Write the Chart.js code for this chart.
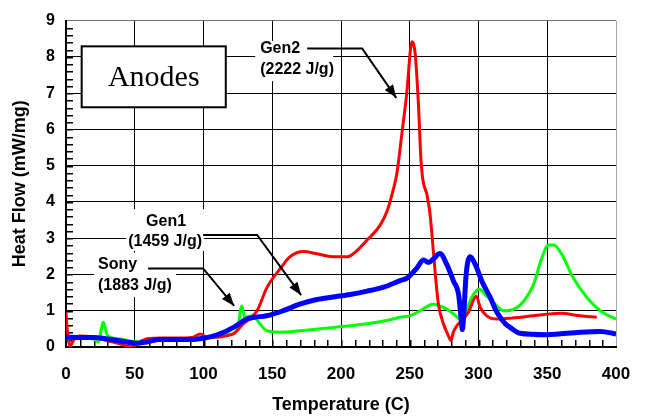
<!DOCTYPE html>
<html>
<head>
<meta charset="utf-8">
<script src="https://cdn.jsdelivr.net/npm/chart.js@4/dist/chart.umd.min.js"></script>
<style>
html,body{margin:0;padding:0;background:#fff;}
#c{display:block;}
</style>
</head>
<body>
<canvas id="c" width="649" height="416"></canvas>
<script>
// ---- Data ----
const xTicks = [0, 50, 100, 150, 200, 250, 300, 350, 400];
const yTicks = [0, 1, 2, 3, 4, 5, 6, 7, 8, 9];

// Gen2 (red)
const gen2T = [0, 0.6, 3, 5.3, 10, 20, 29.6, 39, 47.8, 54, 58.7, 70, 85, 92.6, 97.5, 102.4, 110, 118, 122, 129, 139, 146, 156, 163, 173, 182.5, 194, 205, 209, 219, 228.5, 234, 238, 240.7, 244.3, 248, 250.4, 251.5, 254, 256.4, 258, 259.5, 262.5, 264.5, 266, 268.6, 270.8, 274.5, 278, 280, 281.7, 284.3, 288, 292.6, 298.4, 301.3, 306, 313.5, 325, 340, 359.5, 374, 386];
const gen2V = [0.95, 0.6, 0.02, 0.18, 0.3, 0.27, 0.18, 0.09, 0.0, 0.14, 0.23, 0.25, 0.25, 0.27, 0.36, 0.27, 0.27, 0.32, 0.37, 0.64, 1.0, 1.63, 2.17, 2.49, 2.63, 2.57, 2.49, 2.49, 2.57, 2.95, 3.36, 3.8, 4.34, 4.8, 5.89, 7.07, 8.15, 8.42, 8.06, 6.62, 5.26, 4.62, 4.2, 3.75, 3.17, 2.0, 1.19, 0.64, 0.32, 0.18, 0.41, 0.59, 0.73, 0.95, 1.40, 1.09, 0.86, 0.77, 0.8, 0.86, 0.93, 0.86, 0.82];

// Sony (green)
const sonyT = [0, 10, 20, 23.5, 27.2, 29.6, 32, 40, 50, 60, 80, 100, 110, 118, 122, 125, 127.8, 130, 136, 141, 146, 156, 170, 194.5, 219, 233, 243, 250, 257.6, 267, 274.5, 282, 286.8, 290.4, 295, 300.6, 306, 313.5, 318, 325.5, 333, 340, 346, 351, 354.7, 360.8, 369, 379, 388.6, 400];
const sonyV = [0.25, 0.25, 0.22, 0.14, 0.68, 0.36, 0.27, 0.22, 0.15, 0.2, 0.22, 0.25, 0.3, 0.35, 0.36, 0.54, 1.13, 0.82, 0.86, 0.64, 0.45, 0.41, 0.45, 0.54, 0.64, 0.73, 0.82, 0.86, 1.0, 1.18, 1.09, 0.91, 0.77, 0.91, 1.36, 1.59, 1.40, 1.13, 1.0, 1.04, 1.27, 1.72, 2.45, 2.81, 2.81, 2.54, 1.90, 1.36, 1.0, 0.77];

// Gen1 (blue)
const gen1T = [0, 10, 20, 30, 44, 51, 58.7, 68, 80, 92.6, 100, 107, 112, 121.8, 131.5, 137, 146, 158, 170, 182.5, 194.5, 206.7, 219, 231, 243, 248, 255, 260, 263.7, 267, 272, 277, 281.9, 285.5, 287.5, 288.3, 289.3, 291, 294, 297.7, 302.5, 308.6, 313.5, 319.5, 323, 330, 350, 374, 388.6, 400];
const gen1V = [0.27, 0.26, 0.26, 0.22, 0.14, 0.1, 0.14, 0.21, 0.21, 0.21, 0.24, 0.3, 0.36, 0.54, 0.77, 0.82, 0.86, 1.0, 1.18, 1.31, 1.38, 1.45, 1.54, 1.65, 1.83, 1.9, 2.17, 2.4, 2.33, 2.42, 2.58, 2.27, 1.81, 1.45, 0.73, 0.48, 0.91, 2.0, 2.49, 2.27, 1.81, 1.36, 0.95, 0.64, 0.54, 0.38, 0.34, 0.41, 0.43, 0.36];

const seriesNames = ['Gen1', 'Gen2', 'Sony'];
const seriesLabels = ['(1459 J/g)', '(2222 J/g)', '(1883 J/g)'];
const xMinorStep = 10;
const yMinorStep = 0.2;

const pts = (t, v) => t.map((tt, i) => ({x: tt, y: v[i]}));
const SANS = "'Liberation Sans', Arial, Helvetica, sans-serif";

// ---- Minor ticks (inward, under the curves) ----
const minorTicks = {
  id: 'minorTicks',
  beforeDatasetsDraw(chart) {
    const ctx = chart.ctx;
    const a = chart.chartArea;
    const xs = chart.scales.x, ys = chart.scales.y;
    ctx.save();
    ctx.fillStyle = '#000000';
    const nx = Math.round((xs.max - xs.min) / xMinorStep);
    for (let i = 1; i < nx; i++) {
      const px = Math.round(xs.getPixelForValue(xs.min + i * xMinorStep));
      ctx.fillRect(px, Math.round(a.bottom) - 7, 1.5, 7);
    }
    const ny = Math.round((ys.max - ys.min) / yMinorStep);
    for (let k = 1; k < ny; k++) {
      const py = Math.round(ys.getPixelForValue(ys.min + k * yMinorStep));
      ctx.fillRect(Math.round(a.left), py, 7, 1.5);
    }
    ctx.restore();
  }
};

// ---- Annotations (labels, leaders, arrows, title box) ----
function arrow(ctx, pts) {
  ctx.beginPath();
  ctx.moveTo(pts[0][0], pts[0][1]);
  for (let i = 1; i < pts.length; i++) ctx.lineTo(pts[i][0], pts[i][1]);
  ctx.stroke();
  const [x1, y1] = pts[pts.length - 2];
  const [x2, y2] = pts[pts.length - 1];
  const ang = Math.atan2(y2 - y1, x2 - x1);
  const L = 13, W = 5;
  ctx.beginPath();
  ctx.moveTo(x2, y2);
  ctx.lineTo(x2 - L * Math.cos(ang) + W * Math.sin(ang), y2 - L * Math.sin(ang) - W * Math.cos(ang));
  ctx.lineTo(x2 - L * Math.cos(ang) - W * Math.sin(ang), y2 - L * Math.sin(ang) + W * Math.cos(ang));
  ctx.closePath();
  ctx.fill();
}

const annotations = {
  id: 'annotations',
  afterDatasetsDraw(chart) {
    const {ctx, scales: {x, y}} = chart;
    const P = (t, v) => [x.getPixelForValue(t), y.getPixelForValue(v)];
    ctx.save();

    const [bx1, by1] = P(11.4, 8.29), [bx2, by2] = P(116.2, 6.61);
    ctx.fillStyle = '#fff';
    ctx.fillRect(bx1, by1, bx2 - bx1, by2 - by1);
    ctx.strokeStyle = '#000';
    ctx.lineWidth = 2;
    ctx.strokeRect(bx1, by1, bx2 - bx1, by2 - by1);
    ctx.fillStyle = '#000';
    ctx.font = "30px 'Liberation Serif', 'Times New Roman', serif";
    ctx.textAlign = 'center';
    ctx.textBaseline = 'alphabetic';
    ctx.fillText('Anodes', (bx1 + bx2) / 2, by1 + 40);

    const bg = (t1, v1, t2, v2) => {
      const [a1, b1] = P(t1, v1), [a2, b2] = P(t2, v2);
      ctx.fillStyle = '#fff';
      ctx.fillRect(a1, b1, a2 - a1, b2 - b1);
    };
    bg(137.6, 8.44, 194.3, 7.33);   // Gen2
    bg(43.7, 3.80, 100.4, 2.65);    // Gen1
    bg(20.4, 2.60, 80.1, 1.38);     // Sony

    ctx.fillStyle = '#000';
    ctx.font = 'bold 16px ' + SANS;
    ctx.textBaseline = 'middle';
    ctx.textAlign = 'left';
    let p = P(141.2, 8.23); ctx.fillText(seriesNames[1], p[0], p[1]);
    p = P(141.2, 7.66); ctx.fillText(seriesLabels[1], p[0], p[1]);
    ctx.textAlign = 'center';
    p = P(72.8, 3.47); ctx.fillText(seriesNames[0], p[0], p[1]);
    p = P(72.1, 2.91); ctx.fillText(seriesLabels[0], p[0], p[1]);
    ctx.textAlign = 'left';
    p = P(23.3, 2.27); ctx.fillText(seriesNames[2], p[0], p[1]);
    p = P(23.3, 1.70); ctx.fillText(seriesLabels[2], p[0], p[1]);

    ctx.strokeStyle = '#000';
    ctx.fillStyle = '#000';
    ctx.lineWidth = 2;
    arrow(ctx, [P(175.4, 8.23), P(215.4, 8.23), P(240.2, 6.87)]);
    arrow(ctx, [P(99.7, 3.09), P(139, 3.09), P(171, 1.43)]);
    arrow(ctx, [P(59.7, 2.166), P(99.7, 2.166), P(122.3, 1.133)]);

    ctx.restore();
  }
};

new Chart(document.getElementById('c'), {
  type: 'line',
  data: {
    datasets: [
      {label: seriesNames[0], data: pts(gen1T, gen1V), borderColor: '#0000ff', backgroundColor: '#0000ff', borderWidth: 5, order: 0},
      {label: seriesNames[1], data: pts(gen2T, gen2V), borderColor: '#ff0000', backgroundColor: '#ff0000', borderWidth: 3, order: 1},
      {label: seriesNames[2], data: pts(sonyT, sonyV), borderColor: '#00ff00', backgroundColor: '#00ff00', borderWidth: 3, order: 2}
    ]
  },
  options: {
    responsive: false,
    animation: false,
    layout: {padding: {top: 15, right: 33, left: 0, bottom: 0}},
    plugins: {legend: {display: false}, tooltip: {enabled: false}},
    elements: {point: {radius: 0}, line: {cubicInterpolationMode: 'monotone'}},
    scales: {
      x: {
        type: 'linear', min: xTicks[0], max: xTicks[xTicks.length - 1],
        afterBuildTicks: s => { s.ticks = xTicks.map(v => ({value: v})); },
        ticks: {padding: 17, color: '#000', font: {family: SANS, size: 17, weight: 'bold'}},
        grid: {drawTicks: false, lineWidth: 1, color: c => (c.tick && c.tick.value === 400) ? '#a8a8a8' : '#000'},
        border: {display: true, color: '#000', width: 2},
        title: {display: true, text: 'Temperature (C)', color: '#000', font: {family: SANS, size: 18, weight: 'bold'}, padding: {top: 0, bottom: 0}},
        afterFit: s => { s.height = 69; }
      },
      y: {
        type: 'linear', min: yTicks[0], max: yTicks[yTicks.length - 1],
        afterBuildTicks: s => { s.ticks = yTicks.map(v => ({value: v})); },
        ticks: {padding: 11, color: '#000', font: {family: SANS, size: 16, weight: 'bold'}},
        grid: {drawTicks: false, lineWidth: 1, color: c => (c.tick && c.tick.value === 9) ? '#707070' : '#000'},
        border: {display: true, color: '#000', width: 2},
        title: {display: true, text: 'Heat Flow (mW/mg)', color: '#000', font: {family: SANS, size: 18, weight: 'bold'}, padding: {top: 9, bottom: 0}},
        afterFit: s => { s.width = 66; }
      }
    }
  },
  plugins: [minorTicks, annotations]
});
</script>
</body>
</html>
